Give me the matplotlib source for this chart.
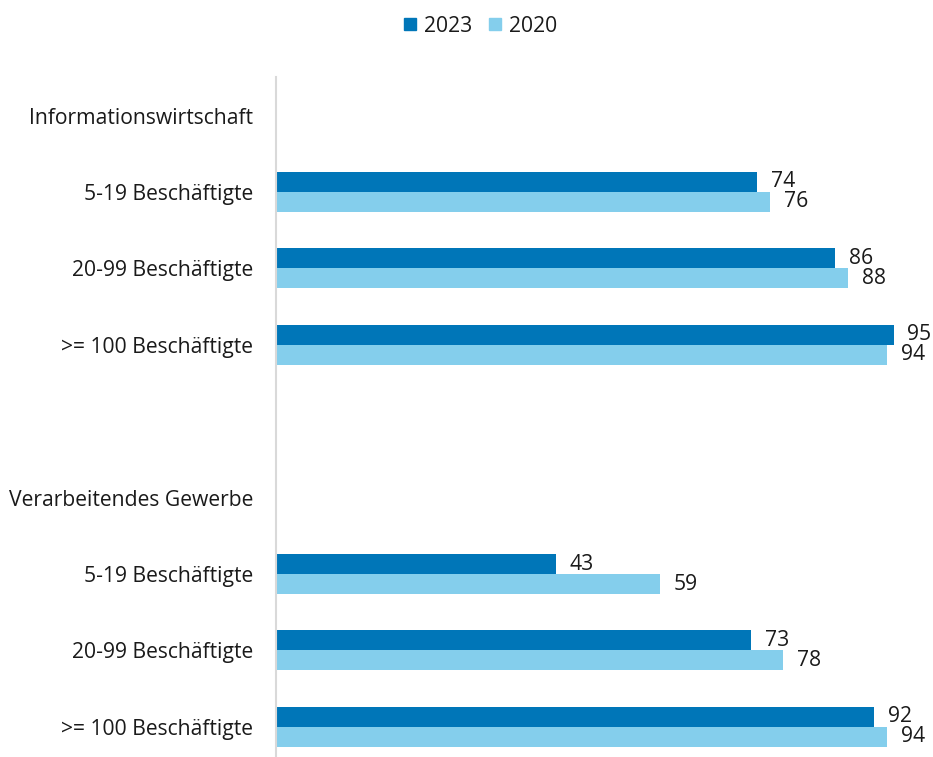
import matplotlib
matplotlib.use("Agg")
import matplotlib.pyplot as plt
from matplotlib.patches import Patch

plt.rcParams['font.family'] = ['Open Sans', 'DejaVu Sans']

categories = ["Informationswirtschaft", "5-19 Beschäftigte", "20-99 Beschäftigte", ">= 100 Beschäftigte", "",
              "Verarbeitendes Gewerbe", "5-19 Beschäftigte", "20-99 Beschäftigte", ">= 100 Beschäftigte"]
values_2023 = [None, 74, 86, 95, None, None, 43, 73, 92]
values_2020 = [None, 76, 88, 94, None, None, 59, 78, 94]
series_names = ["2023", "2020"]
colors = ["#0076B8", "#84CEEC"]

FS = 15.2
fig = plt.figure(figsize=(9.33, 7.57), dpi=100)
ax = fig.add_axes([276/933, 0, 650/933, 680/757])

bh = 0.262
ys = list(range(len(categories)))
for i, (a, b) in enumerate(zip(values_2023, values_2020)):
    if a is not None:
        ax.barh(i - bh/2, a, height=bh, color=colors[0])
        ax.annotate(str(a), (a, i - bh/2), xytext=(14, 0), textcoords='offset pixels',
                    va='center', ha='left', fontsize=FS, color='#1a1a1a')
    if b is not None:
        ax.barh(i + bh/2, b, height=bh, color=colors[1])
        ax.annotate(str(b), (b, i + bh/2), xytext=(14, 0), textcoords='offset pixels',
                    va='center', ha='left', fontsize=FS, color='#1a1a1a')

ax.set_xlim(0, 100)
ax.set_ylim(8.395, -0.505)
ax.set_yticks(ys)
ax.set_yticklabels(categories, fontsize=FS, color='#1a1a1a')
ax.tick_params(axis='y', length=0, pad=16.5)
ax.set_xticks([])
for s in ['top', 'right', 'bottom']:
    ax.spines[s].set_visible(False)
ax.spines['left'].set_color('#d9d9d9')
ax.spines['left'].set_linewidth(1.5)

handles = [Patch(color=c, label=n) for c, n in zip(colors, series_names)]
fig.legend(handles=handles, loc='center', bbox_to_anchor=(481/933, 1 - 26/757), ncol=2,
           frameon=False, fontsize=FS, handlelength=0.55, handleheight=0.55,
           handletextpad=0.4, columnspacing=0.8, labelcolor='#1a1a1a')

fig.savefig("out.png", dpi=100)
